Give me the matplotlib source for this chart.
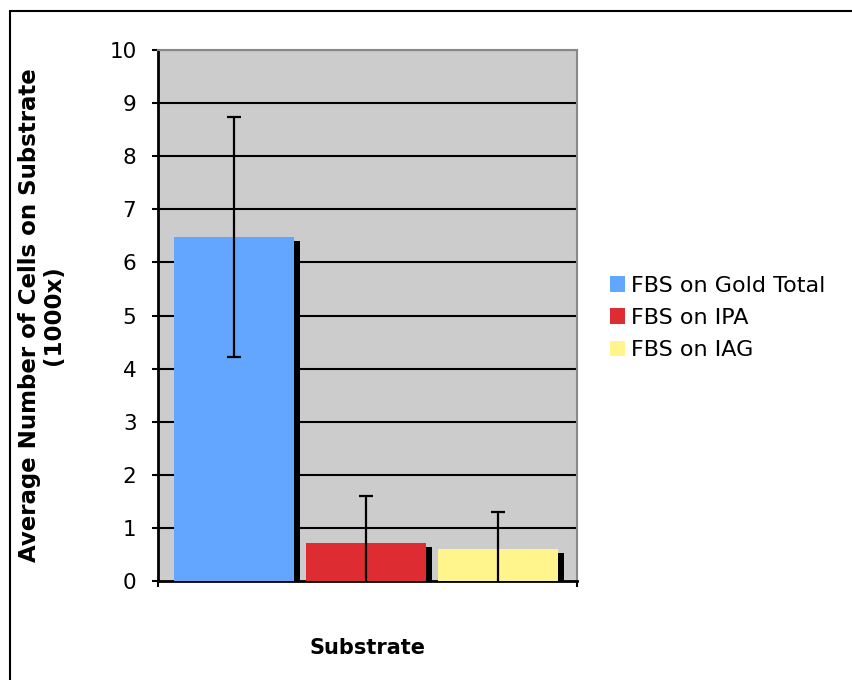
import matplotlib.pyplot as plt
from matplotlib.patches import Rectangle, Patch
import numpy as np

series = ["FBS on Gold Total", "FBS on IPA", "FBS on IAG"]
means = [6.48, 0.72, 0.60]
errors = [2.26, 0.88, 0.70]
colors = ["#62a6ff", "#de2c33", "#fff58c"]

fig = plt.figure(figsize=(8.52, 6.8), dpi=100)
fig.patches.append(Rectangle((10 / 852, -0.1), 2, 1.1 - 11 / 680, transform=fig.transFigure,
                             fill=False, edgecolor="black", linewidth=1.5))

ax = fig.add_axes([158 / 852, 1 - 581 / 680, 419 / 852, 531 / 680])
ax.set_facecolor("#cccccc")

centers = 0.1815 + 0.315 * np.arange(len(series))
width = 0.288
dx = 6 / 419
dy = 4 / 53.1

for y in range(1, 11):
    ax.axhline(y, color="black", lw=1.5, zorder=1)

# shadows first, then bars
ax.bar(centers + dx, np.array(means) - dy, width, color="black", zorder=2)
ax.bar(centers, means, width, color=colors, zorder=3)
ax.errorbar(centers, means, yerr=errors, fmt="none", ecolor="black",
            elinewidth=1.6, capsize=5, capthick=1.6, zorder=4)

ax.set_xlim(0, 1)
ax.set_ylim(0, 10)
ax.set_yticks(range(0, 11))
ax.set_xticks([0, 1])
ax.set_xticklabels([])
ax.tick_params(axis="y", direction="out", length=4.5, width=1.5, labelsize=15.5, pad=11)
ax.tick_params(axis="x", direction="out", length=4.5, width=1.5)

for side in ["top", "right"]:
    ax.spines[side].set_color("#888888")
    ax.spines[side].set_linewidth(1.5)
for side in ["left", "bottom"]:
    ax.spines[side].set_color("black")
    ax.spines[side].set_linewidth(2)

ax.set_ylabel("Average Number of Cells on Substrate\n(1000x)", fontsize=16.5,
              fontweight="bold", labelpad=32, linespacing=1.05)
ax.set_xlabel("Substrate", fontsize=15, fontweight="bold", labelpad=33)

handles = [Patch(facecolor=c, edgecolor="none") for c in colors]
fig.legend(handles, series, loc="center left", bbox_to_anchor=(601 / 852, 1 - 318 / 680),
           frameon=False, fontsize=16, handlelength=0.7, handleheight=0.7,
           handletextpad=0.25, labelspacing=0.55, borderaxespad=0)

fig.savefig("out.png", dpi=100)
